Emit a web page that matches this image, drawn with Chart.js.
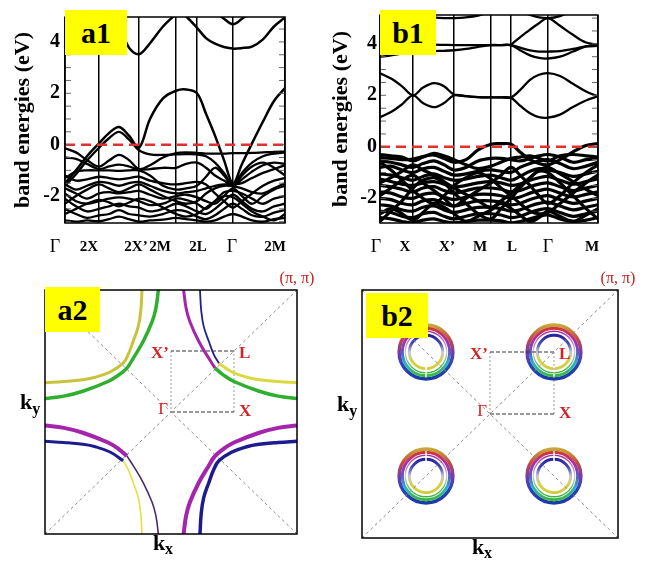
<!DOCTYPE html>
<html>
<head>
<meta charset="utf-8">
<script src="https://cdn.jsdelivr.net/npm/chart.js@4.4.1/dist/chart.umd.min.js"></script>
<style>
  body { margin: 0; background: #fff; width: 651px; height: 561px; position: relative; overflow: hidden; }
  canvas { position: absolute; }
  .tag {
    position: absolute; background: #ffff00; color: #000;
    font: bold 30px "Liberation Serif", serif; text-align: center; line-height: 45px;
  }
</style>
</head>
<body>
<canvas id="a1" width="320" height="260" style="left:0;top:0"></canvas>
<canvas id="b1" width="331" height="260" style="left:320px;top:0"></canvas>
<canvas id="a2" width="320" height="301" style="left:0;top:260px"></canvas>
<canvas id="b2" width="331" height="301" style="left:320px;top:260px"></canvas>
<div class="tag" style="left:65px;top:10px;width:62px;height:45px">a1</div>
<div class="tag" style="left:380px;top:10px;width:56px;height:45px">b1</div>
<div class="tag" style="left:45px;top:287px;width:55px;height:45px">a2</div>
<div class="tag" style="left:366px;top:293px;width:62px;height:45px">b2</div>
<script>
const FONT = '"Liberation Serif", "Times New Roman", serif';

// ---- panel a1 : k path and bands ----
const kA = [0, 11, 22, 34, 44, 54, 64, 74, 85, 98, 111, 121, 132, 141, 150, 159, 168, 177, 187, 198, 209, 220];
const symA = [0, 34, 74, 111, 132, 168, 220];
const symNamesA = ["Γ", "2X", "2X’", "2M", "2L", "Γ", "2M"];
const labelPosA = [-10, 24, 71, 95, 133, 167, 210];

const bandA1 = [-1.5, -1.0, -0.45, 0.05, 0.45, 0.69, 0.35, -0.12, 1.0, 1.8, 2.1, 2.15, 2.0, 1.2, 0.35, -0.6, -1.5, -0.75, 0.05, 0.9, 1.7, 2.2];
const bandA2 = [-1.6, -1.15, -0.62, -0.12, 0.25, 0.5, 0.2, -0.22, -0.38, -0.4, -0.38, -0.37, -0.38, -0.45, -0.7, -1.1, -1.55, -1.1, -0.7, -0.45, -0.35, -0.3];
const bandA3 = [-0.14, -0.3, -0.6, -0.85, -0.62, -0.4, -0.6, -0.95, -0.8, -0.5, -0.33, -0.3, -0.32, -0.35, -0.35, -0.35, -0.33, -0.33, -0.32, -0.3, -0.28, -0.27];
const bandA4 = [-1.3, -1.05, -1.0, -1.0, -1.0, -1.02, -1.0, -1.0, -1.2, -1.6, -1.75, -1.7, -1.6, -1.25, -0.9, -1.2, -1.6, -1.2, -0.85, -0.7, -0.9, -1.2];
const bandA5 = [-1.55, -1.75, -1.6, -1.45, -1.5, -1.6, -1.5, -1.45, -1.6, -1.8, -1.9, -1.85, -1.8, -1.7, -1.6, -1.55, -1.55, -1.5, -1.3, -1.1, -0.95, -0.8];
const bandA6 = [-1.7, -1.9, -2.1, -1.9, -1.85, -1.9, -1.85, -1.8, -1.95, -2.1, -2.0, -1.95, -2.05, -2.2, -2.3, -2.0, -1.7, -2.0, -2.3, -2.0, -1.75, -1.6];
const bandA7 = [-1.9, -2.2, -2.3, -2.2, -2.1, -2.05, -2.1, -2.2, -2.35, -2.3, -2.1, -2.15, -2.3, -2.5, -2.2, -1.85, -1.8, -1.9, -2.1, -2.3, -2.1, -2.0];
const bandA8 = [-2.1, -2.4, -2.6, -2.5, -2.4, -2.3, -2.4, -2.45, -2.6, -2.5, -2.3, -2.4, -2.6, -2.7, -2.5, -2.2, -1.95, -2.2, -2.5, -2.6, -2.4, -2.3];
const bandA9 = [-2.5, -2.7, -2.85, -2.75, -2.7, -2.55, -2.7, -2.75, -2.8, -2.7, -2.55, -2.6, -2.8, -2.9, -2.75, -2.5, -2.3, -2.5, -2.75, -2.8, -2.65, -2.55];
const bandA10 = [-2.95, -3.0, -2.95, -2.98, -2.9, -2.8, -2.9, -3.0, -2.95, -2.92, -2.85, -2.9, -2.95, -3.0, -2.95, -2.8, -2.7, -2.8, -2.95, -3.0, -2.9, -2.85];
const bandA11 = [-0.5, -0.55, -0.75, -0.95, -0.85, -0.78, -0.85, -0.98, -0.95, -0.9, -0.9, -0.75, -0.7, -0.9, -1.2, -1.4, -1.6, -1.35, -1.05, -0.8, -0.7, -0.75];
const bandA12 = [-2.3, -2.0, -1.75, -1.55, -1.7, -1.85, -1.7, -1.55, -1.75, -2.0, -2.2, -2.3, -2.2, -1.9, -1.7, -1.6, -1.62, -1.7, -1.85, -1.9, -1.7, -1.5];
const bandA13 = [null, null, null, null, 6.0, 4.7, 3.78, 3.52, 3.95, 4.6, 5.1, 5.6, null, null, null, null, null, null, null, null, null, null];
const bandA14 = [null, null, null, null, null, null, null, null, null, null, 5.3, 5.0, 4.55, 4.15, 3.93, 3.8, 3.74, 3.76, 3.82, 4.1, 4.6, 4.95];
const bandA15 = [null, null, null, null, null, null, null, null, null, null, null, null, null, null, 5.2, 4.9, 4.69, 4.9, 5.2, null, null, null];
const bandA16 = [-1.2, -1.4, -1.35, -1.25, -1.3, -1.35, -1.3, -1.25, -1.4, -1.5, -1.55, -1.5, -1.45, -1.55, -1.9, -2.2, -2.45, -2.2, -1.9, -1.6, -1.4, -1.3];
const bandA17 = [-2.7, -2.5, -2.3, -2.15, -2.25, -2.4, -2.25, -2.1, -2.2, -2.45, -2.7, -2.8, -2.7, -2.45, -2.2, -2.0, -2.05, -2.3, -2.6, -2.8, -2.95, -2.7];

// ---- panel b1 ----
const kB = [0, 11, 22, 33, 43, 54, 64, 74, 86, 98, 111, 121, 131, 140, 150, 159, 168, 180, 193, 206, 218];
const symB = [0, 33, 74, 111, 131, 168, 218];
const symNamesB = ["Γ", "X", "X’", "M", "L", "Γ", "M"];
const labelPosB = [-4, 25, 67, 100, 132, 168, 212];

const bandB1 = [2.86, 2.65, 2.35, 2.0, 2.3, 2.47, 2.35, 2.03, 1.97, 1.93, 1.92, 1.92, 1.92, 2.2, 2.6, 2.8, 2.86, 2.75, 2.45, 2.15, 1.96];
const bandB2 = [1.15, 1.35, 1.65, 2.0, 1.7, 1.54, 1.7, 2.0, 1.97, 1.93, 1.92, 1.92, 1.9, 1.6, 1.3, 1.15, 1.13, 1.25, 1.55, 1.8, 1.96];
const bandB3 = [3.5, 3.55, 3.62, 3.68, 3.7, 3.72, 3.73, 3.75, 3.8, 3.88, 3.95, 3.95, 3.95, 3.75, 3.55, 3.45, 3.43, 3.5, 3.7, 3.9, 3.95];
const bandB4 = [4.4, 4.3, 4.15, 4.05, 4.0, 3.97, 3.96, 3.95, 3.95, 3.95, 3.95, 3.95, 3.95, 3.85, 3.75, 3.7, 3.7, 3.72, 3.8, 3.9, 3.92];
const bandB5 = [null, null, null, null, null, null, null, null, null, null, null, null, 3.97, 4.25, 4.55, 4.8, 5.0, 4.7, 4.35, 4.05, 3.97];
const bandB6 = [null, null, null, null, null, null, null, null, null, null, null, null, null, 5.3, 5.12, 5.03, 5.0, 5.08, 5.3, null, null];
const bandB7 = [5.5, 5.4, 5.3, 5.2, 5.1, 5.03, 5.0, 5.0, 5.03, 5.1, 5.25, null, null, null, null, null, null, null, null, null, null];
const bandB8 = [-0.42, -0.45, -0.5, -0.48, -0.38, -0.32, -0.45, -0.6, -0.5, -0.12, 0.1, 0.12, 0.1, -0.2, -0.5, -0.65, -0.7, -0.5, -0.2, 0.05, 0.13];
const bandB9 = [-0.55, -0.6, -0.7, -0.8, -0.65, -0.55, -0.7, -0.9, -0.8, -0.55, -0.45, -0.45, -0.5, -0.55, -0.45, -0.35, -0.3, -0.4, -0.6, -0.5, -0.45];
const bandB10 = [-0.8, -0.75, -0.9, -1.0, -0.85, -0.8, -0.95, -1.1, -1.05, -0.95, -0.9, -0.95, -1.0, -0.8, -0.65, -0.55, -0.5, -0.65, -0.85, -0.75, -0.6];
const bandB11 = [-1.05, -1.1, -1.2, -1.3, -1.15, -1.05, -1.2, -1.3, -1.25, -1.15, -1.1, -1.2, -1.3, -1.15, -0.95, -0.85, -0.9, -1.0, -1.15, -1.05, -0.95];
const bandB12 = [-1.25, -1.35, -1.45, -1.5, -1.4, -1.35, -1.45, -1.55, -1.5, -1.4, -1.35, -1.4, -1.5, -1.45, -1.3, -1.2, -1.15, -1.3, -1.45, -1.35, -1.25];
const bandB13 = [-1.5, -1.55, -1.65, -1.75, -1.6, -1.55, -1.7, -1.8, -1.7, -1.6, -1.6, -1.65, -1.75, -1.7, -1.55, -1.45, -1.4, -1.55, -1.7, -1.6, -1.5];
const bandB14 = [-1.75, -1.8, -1.95, -2.0, -1.85, -1.8, -1.95, -2.05, -1.95, -1.85, -1.85, -1.9, -2.0, -1.95, -1.8, -1.7, -1.65, -1.8, -1.95, -1.85, -1.75];
const bandB15 = [-2.0, -2.05, -2.2, -2.25, -2.1, -2.05, -2.2, -2.3, -2.2, -2.1, -2.1, -2.15, -2.25, -2.2, -2.05, -1.95, -1.9, -2.05, -2.2, -2.1, -2.0];
const bandB16 = [-2.25, -2.3, -2.45, -2.5, -2.35, -2.3, -2.45, -2.55, -2.45, -2.35, -2.35, -2.4, -2.5, -2.45, -2.3, -2.2, -2.15, -2.3, -2.45, -2.35, -2.25];
const bandB17 = [-2.5, -2.55, -2.7, -2.75, -2.6, -2.55, -2.7, -2.8, -2.7, -2.6, -2.6, -2.65, -2.75, -2.7, -2.55, -2.45, -2.4, -2.55, -2.7, -2.6, -2.5];
const bandB18 = [-2.75, -2.8, -2.9, -2.95, -2.85, -2.8, -2.9, -2.95, -2.9, -2.85, -2.85, -2.88, -2.95, -2.9, -2.8, -2.7, -2.65, -2.8, -2.9, -2.85, -2.75];
const bandB19 = [-0.6, -0.9, -1.3, -1.7, -2.0, -2.2, -1.9, -1.5, -1.2, -1.0, -1.25, -1.6, -1.9, -2.2, -2.5, -2.6, -2.55, -2.2, -1.8, -1.4, -1.1];
const bandB20 = [-2.9, -2.5, -2.1, -1.6, -1.3, -1.2, -1.4, -1.8, -2.2, -2.6, -2.8, -2.4, -2.0, -1.6, -1.2, -0.95, -1.0, -1.4, -1.9, -2.4, -2.8];
const bandB21 = [-1.9, -1.6, -1.3, -1.1, -1.4, -1.7, -2.0, -2.3, -2.0, -1.7, -1.4, -1.1, -0.8, -1.1, -1.5, -1.9, -2.2, -1.9, -1.4, -1.0, -0.7];
const bandB22 = [-0.3, -0.35, -0.4, -0.55, -0.4, -0.25, -0.35, -0.5, -0.7, -0.85, -0.75, -0.6, -0.45, -0.4, -0.35, -0.45, -0.55, -0.35, -0.3, -0.35, -0.4];
const bandB23 = [-1.4, -1.2, -0.95, -0.7, -0.9, -1.1, -1.35, -1.6, -1.85, -2.1, -2.35, -2.1, -1.8, -1.5, -1.2, -0.9, -0.8, -1.05, -1.35, -1.65, -1.9];
const bandB24 = [-2.6, -2.4, -2.6, -2.85, -2.55, -2.2, -2.35, -2.6, -2.9, -2.7, -2.45, -2.2, -2.4, -2.65, -2.9, -2.75, -2.5, -2.7, -2.9, -2.65, -2.4];

// energy ticks
const eLabels = [-2, 0, 2, 4];
const eMinor = [-3, -2.5, -2, -1.5, -1, -0.5, 0, 0.5, 1, 1.5, 2, 2.5, 3, 3.5, 4, 4.5, 5];

// ---- Fermi surfaces (k in units of pi, first quadrant, top end -> side end) ----
const qInU = [0.10, 0.12, 0.15, 0.22, 0.30, 0.35, 0.42, 0.50, 0.70, 0.85, 1.0];
const qInV = [1.0, 0.85, 0.74, 0.58, 0.44, 0.36, 0.30, 0.25, 0.17, 0.13, 0.11];
const pOutU = [0.23, 0.24, 0.26, 0.30, 0.34, 0.38, 0.48, 0.60, 0.70, 0.85, 1.0];
const pOutV = [1.0, 0.83, 0.70, 0.58, 0.47, 0.40, 0.33, 0.285, 0.265, 0.25, 0.24];

const symBZ = ["X’", "L", "Γ", "X"];
const symBZu = [0, 0.5, 0, 0.5];
const symBZv = [0.5, 0.5, 0, 0];
const rectU = [0, 0.5, 0.5, 0, 0];
const rectV = [0, 0, 0.5, 0.5, 0];

const pocketU = [-0.5, 0.5, -0.5, 0.5];
const pocketV = [0.5, 0.5, -0.5, -0.5];
const ringRadius = [0.21, 0.185, 0.162, 0.13];

// ---------- helpers ----------
function bandDatasets(k, bands, width) {
  return bands.map(b => ({
    data: k.map((x, i) => ({ x: x, y: b[i] })),
    borderColor: "#000",
    borderWidth: width,
    pointRadius: 0,
    showLine: true,
    tension: 0.35,
    spanGaps: false,
  }));
}

function frameTicks() {
  return {
    id: "frameTicks",
    afterDraw(chart) {
      const { ctx, chartArea: a, scales } = chart;
      ctx.save();
      ctx.strokeStyle = "#666";
      ctx.lineWidth = 1;
      eMinor.forEach(v => {
        const py = scales.y.getPixelForValue(v);
        if (py < a.top + 1 || py > a.bottom - 1) return;
        ctx.beginPath();
        ctx.moveTo(a.left, py); ctx.lineTo(a.left + 6, py);
        ctx.moveTo(a.right, py); ctx.lineTo(a.right - 6, py);
        ctx.stroke();
      });
      ctx.strokeStyle = "#000";
      ctx.lineWidth = 1.5;
      ctx.strokeRect(a.left, a.top, a.width, a.height);
      ctx.restore();
    },
  };
}

function pathLabels(pos, names) {
  return {
    id: "pathLabels",
    afterDraw(chart) {
      const { ctx, chartArea: a, scales: { x } } = chart;
      ctx.save();
      ctx.fillStyle = "#000";
      ctx.textAlign = "center";
      ctx.textBaseline = "middle";
      pos.forEach((k, i) => {
        const t = names[i];
        ctx.font = t === "Γ" ? "18px " + FONT : "bold 15px " + FONT;
        ctx.fillText(t, x.getPixelForValue(k), a.bottom + 24);
      });
      ctx.restore();
    },
  };
}

function makeBandChart(id, k, sym, labPos, names, upper, lower, wUp, wLow, yMin, yMax, yWidth, padRight, titlePad, labelPad) {
  const sets = bandDatasets(k, upper, wUp).concat(bandDatasets(k, lower, wLow));
  sets.unshift({
    data: [{ x: k[0], y: 0 }, { x: k[k.length - 1], y: 0 }],
    borderColor: "#e2302c",
    borderWidth: 2.5,
    borderDash: [10, 6],
    pointRadius: 0,
    showLine: true,
    order: -1,
  });
  new Chart(document.getElementById(id), {
    type: "scatter",
    data: { datasets: sets },
    options: {
      responsive: false,
      animation: false,
      layout: { padding: { top: 13, right: padRight, left: 0, bottom: 0 } },
      plugins: { legend: { display: false }, tooltip: { enabled: false } },
      scales: {
        x: {
          type: "linear",
          min: k[0],
          max: k[k.length - 1],
          afterBuildTicks: s => { s.ticks = sym.map(v => ({ value: v })); },
          afterFit: s => { s.height = 37; },
          grid: { color: "#000", lineWidth: 1.5, drawTicks: false },
          border: { display: false },
          ticks: { display: false },
        },
        y: {
          type: "linear",
          min: yMin,
          max: yMax,
          afterBuildTicks: s => { s.ticks = eLabels.map(v => ({ value: v })); },
          afterFit: s => { s.width = yWidth; },
          grid: { display: false, drawTicks: false },
          border: { display: false },
          ticks: { color: "#000", padding: labelPad, font: { family: FONT, size: 20, weight: "bold" } },
          title: {
            display: true,
            text: "band energies (eV)",
            color: "#000",
            font: { family: FONT, size: 22, weight: "bold" },
            padding: { top: titlePad, bottom: 0 },
          },
        },
      },
    },
    plugins: [frameTicks(), pathLabels(labPos, names)],
  });
}

makeBandChart("a1", kA, symA, labelPosA, symNamesA,
  [bandA1, bandA13, bandA14, bandA15],
  [bandA2, bandA3, bandA4, bandA5, bandA6, bandA7, bandA8, bandA9, bandA10, bandA11, bandA12, bandA16, bandA17],
  2.5, 2.3, -3.05, 4.97, 65, 35, 10, 5);

makeBandChart("b1", kB, symB, labelPosB, symNamesB,
  [bandB1, bandB2, bandB3, bandB4, bandB5, bandB6, bandB7],
  [bandB8, bandB9, bandB10, bandB11, bandB12, bandB13, bandB14, bandB15, bandB16, bandB17, bandB18, bandB19, bandB20, bandB21, bandB22, bandB23, bandB24],
  2.3, 3.2, -2.96, 5.12, 60, 53, 8, 3);

// ---------- Brillouin zone panels ----------
function guide(xs, ys, color, dash) {
  return {
    data: xs.map((x, i) => ({ x: x, y: ys[i] })),
    borderColor: color,
    borderWidth: 1,
    borderDash: dash,
    pointRadius: 0,
    showLine: true,
    order: 2,
  };
}

function guideSets() {
  return [
    guide([-1, 1], [-1, 1], "#8a8a8a", [3, 3]),
    guide([-1, 1], [1, -1], "#8a8a8a", [3, 3]),
    guide(rectU.slice(0, 2), rectV.slice(0, 2), "#333", [4, 2]),
    guide(rectU.slice(1, 3), rectV.slice(1, 3), "#999", [2, 2]),
    guide(rectU.slice(2, 4), rectV.slice(2, 4), "#333", [4, 2]),
    guide(rectU.slice(3, 5), rectV.slice(3, 5), "#999", [2, 2]),
  ];
}

function fsCurve(which, sx, sy, from, to, color, width) {
  const u = which === "q" ? qInU : pOutU;
  const v = which === "q" ? qInV : pOutV;
  const pts = [];
  for (let i = from; i <= to; i++) pts.push({ x: sx * u[i], y: sy * v[i] });
  return { data: pts, borderColor: color, borderWidth: width, pointRadius: 0, showLine: true, tension: 0.4, order: 0 };
}

function bzText() {
  return {
    id: "bzText",
    afterDraw(chart) {
      const { ctx, chartArea: a, scales: { x, y } } = chart;
      ctx.save();
      ctx.textBaseline = "middle";
      ctx.fillStyle = "#d42222";
      const dx = [-2, 5, -3, 5];
      const dy = [3, 3, -2, 0];
      const align = ["right", "left", "right", "left"];
      symBZ.forEach((t, i) => {
        ctx.font = (t === "Γ" ? "" : "bold ") + "17px " + FONT;
        ctx.textAlign = align[i];
        ctx.fillText(t, x.getPixelForValue(symBZu[i]) + dx[i], y.getPixelForValue(symBZv[i]) + dy[i]);
      });
      ctx.font = "16px " + FONT;
      ctx.textAlign = "center";
      ctx.fillStyle = "#c82020";
      ctx.fillText("(π, π)", x.getPixelForValue(1), y.getPixelForValue(1) - 11);
      // axis names
      ctx.fillStyle = "#000";
      const cy = (a.top + a.bottom) / 2;
      const cx = (a.left + a.right) / 2;
      ctx.textAlign = "left";
      ctx.font = "bold 22px " + FONT;
      const kw = ctx.measureText("k").width;
      ctx.fillText("k", a.left - 25, cy - 9);
      ctx.fillText("k", cx - 12 - kw / 2, a.bottom + 10);
      ctx.font = "bold 16px " + FONT;
      ctx.fillText("y", a.left - 25 + kw, cy - 2);
      ctx.fillText("x", cx - 12 + kw / 2, a.bottom + 16);
      // frame
      ctx.strokeStyle = "#000";
      ctx.lineWidth = 1.5;
      ctx.strokeRect(a.left, a.top, a.width, a.height);
      ctx.restore();
    },
  };
}

function pocketRings() {
  const ringWidth = [3.5, 3, 1.4, 3];
  const ringColors = [
    ["#c4a838", "#c84a3a", "#7a3aa8", "#2a44b8", "#1e3aa8"],
    ["#d0382e", "#b02aa8", "#5a5ac0", "#2cb4c8", "#3cb840"],
    ["#a82aa8", "#b080c8", "#d0d0e0", "#70c070", "#3cb83c"],
    ["#24249c", "#4a4ab0", "#c8c8d8", "#d8d048", "#d4cc40"],
  ];
  return {
    id: "pocketRings",
    beforeDatasetsDraw(chart) {
      const { ctx, scales: { x, y } } = chart;
      ctx.save();
      pocketU.forEach((cu, i) => {
        const cx = x.getPixelForValue(cu);
        const cy = y.getPixelForValue(pocketV[i]);
        ringRadius.forEach((r, j) => {
          const rp = x.getPixelForValue(cu + r) - cx;
          const g = ctx.createLinearGradient(0, cy - rp, 0, cy + rp);
          const cols = ringColors[j];
          cols.forEach((c, s) => g.addColorStop(s / (cols.length - 1), c));
          ctx.strokeStyle = g;
          ctx.lineWidth = ringWidth[j];
          ctx.beginPath();
          ctx.arc(cx, cy, rp, 0, Math.PI * 2);
          ctx.stroke();
        });
        // white seam of the rendered surface
        const sy = pocketV[i] > 0 ? 1 : -1;
        const r0 = x.getPixelForValue(cu + ringRadius[0]) - cx;
        const r3 = x.getPixelForValue(cu + ringRadius[3]) - cx;
        ctx.strokeStyle = "#fff";
        ctx.lineWidth = 1.5;
        ctx.beginPath();
        ctx.moveTo(cx, cy + sy * (r3 - 2));
        ctx.lineTo(cx, cy + sy * (r0 - 2));
        ctx.stroke();
      });
      ctx.restore();
    },
  };
}

function makeBZChart(id, sets, pad, extra) {
  new Chart(document.getElementById(id), {
    type: "scatter",
    data: { datasets: sets },
    options: {
      responsive: false,
      animation: false,
      layout: { padding: pad },
      plugins: { legend: { display: false }, tooltip: { enabled: false } },
      scales: {
        x: { min: -1, max: 1, display: false },
        y: { min: -1, max: 1, display: false },
      },
    },
    plugins: extra.concat([bzText()]),
  });
}

const a2Sets = guideSets().concat([
  fsCurve("q", -1, 1, 0, 10, "#2eb02e", 3.5),
  fsCurve("p", -1, 1, 0, 10, "#c8c23c", 3),
  fsCurve("q", 1, 1, 0, 5, "#a424ac", 3),
  fsCurve("q", 1, 1, 5, 10, "#2eb02e", 3.5),
  fsCurve("p", 1, 1, 0, 5, "#20208e", 1.8),
  fsCurve("p", 1, 1, 5, 10, "#dcd840", 3),
  fsCurve("q", -1, -1, 5, 10, "#a424ac", 4),
  fsCurve("q", -1, -1, 0, 5, "#4a2a70", 1.6),
  fsCurve("p", -1, -1, 5, 10, "#1c1c90", 3),
  fsCurve("p", -1, -1, 0, 5, "#e6e040", 1.6),
  fsCurve("q", 1, -1, 0, 10, "#a424ac", 4),
  fsCurve("p", 1, -1, 0, 10, "#1c1c90", 3.5),
]);

makeBZChart("a2", a2Sets, { left: 45, right: 23, top: 30, bottom: 27 }, []);
makeBZChart("b2", guideSets(), { left: 42, right: 33, top: 30, bottom: 23 }, [pocketRings()]);
</script>
</body>
</html>
